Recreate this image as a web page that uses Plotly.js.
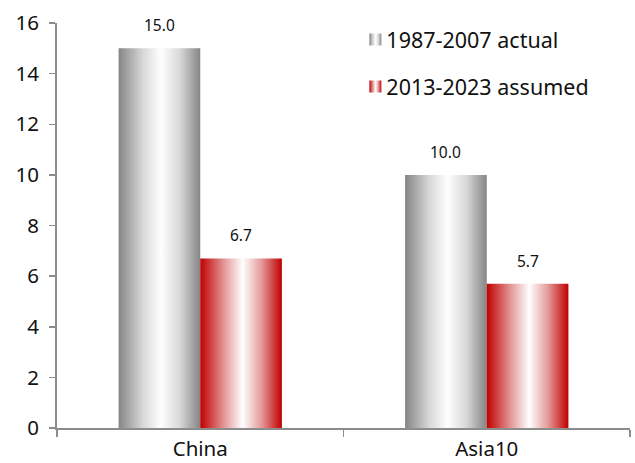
<!DOCTYPE html>
<html>
<head>
<meta charset="utf-8">
<script src="https://cdn.plot.ly/plotly-3.0.1.min.js"></script>
<style>html,body{margin:0;padding:0;background:#fff}#chart{width:635px;height:463px}</style>
</head>
<body>
<div id="chart"></div>
<script>
const categories = ["China", "Asia10"];
const seriesNames = ["1987-2007 actual", "2013-2023 assumed"];
const actual = [15.0, 10.0];
const assumed = [6.7, 5.7];
const yTicks = [0, 2, 4, 6, 8, 10, 12, 14, 16];

const FONT = "Noto Sans, Open Sans, DejaVu Sans, sans-serif";

const traces = [
  {type: "bar", name: seriesNames[0], x: categories, y: actual, legendgroup: "a",
   marker: {color: "#b0b0b0", line: {width: 0}}, hoverinfo: "none"},
  {type: "bar", name: seriesNames[1], x: categories, y: assumed, legendgroup: "b",
   marker: {color: "#d04040", line: {width: 0}}, hoverinfo: "none"}
];

const annotations = [];
[actual, assumed].forEach((vals, si) => {
  vals.forEach((v, i) => {
    annotations.push({
      x: categories[i], y: v, xref: "x", yref: "y",
      text: v.toFixed(1), showarrow: false,
      xshift: si === 0 ? -41 : 41, yshift: 23,
      font: {family: FONT, size: 15.5, color: "#111"}
    });
  });
});

const layout = {
  width: 635, height: 463,
  margin: {l: 57, r: 5, t: 23, b: 35},
  paper_bgcolor: "#fff", plot_bgcolor: "#fff",
  font: {family: FONT, color: "#111"},
  barmode: "group", bargap: 0.43, bargroupgap: 0,
  showlegend: true,
  legend: {x: 0.505, y: 1.01, xanchor: "left", yanchor: "top",
           font: {family: FONT, size: 21.5, color: "#111"},
           traceorder: "grouped", tracegroupgap: 16, itemwidth: 30,
           bgcolor: "rgba(0,0,0,0)"},
  xaxis: {type: "category", showline: true, linecolor: "#8c8c8c", linewidth: 2,
          ticks: "outside", tickson: "boundaries", ticklen: 7, tickcolor: "#8c8c8c", tickwidth: 1.5,
          ticklabelstandoff: 1,
          tickfont: {family: FONT, size: 20.5, color: "#111"}, showgrid: false, zeroline: false,
          fixedrange: true},
  yaxis: {range: [0, 16], tickvals: yTicks, showline: true, linecolor: "#8c8c8c", linewidth: 2,
          ticks: "outside", ticklen: 6, tickcolor: "#8c8c8c", tickwidth: 1.5,
          ticklabelstandoff: 6,
          tickfont: {family: FONT, size: 20.5, color: "#111"}, showgrid: false, zeroline: false,
          fixedrange: true},
  annotations: annotations
};

function applyGradients(gd) {
  const svg = gd.querySelector(".main-svg");
  const ns = "http://www.w3.org/2000/svg";
  let defs = svg.querySelector("defs");
  if (!defs) { defs = document.createElementNS(ns, "defs"); svg.insertBefore(defs, svg.firstChild); }
  const grads = [
    {id: "gradGray", edge: "#858585", mid: "#d8d8d8"},
    {id: "gradRed", edge: "#c00000", mid: "#e49a9a"}
  ];
  grads.forEach(g => {
    if (document.getElementById(g.id)) return;
    const lg = document.createElementNS(ns, "linearGradient");
    lg.setAttribute("id", g.id);
    lg.setAttribute("x1", "0"); lg.setAttribute("y1", "0");
    lg.setAttribute("x2", "1"); lg.setAttribute("y2", "0");
    [[0, g.edge], [0.3, g.mid], [0.52, "#ffffff"], [0.75, g.mid], [1, g.edge]].forEach(([o, c]) => {
      const s = document.createElementNS(ns, "stop");
      s.setAttribute("offset", o); s.setAttribute("stop-color", c);
      lg.appendChild(s);
    });
    defs.appendChild(lg);
  });
  const barTraces = gd.querySelectorAll(".barlayer .trace.bars");
  barTraces.forEach((t, i) => {
    t.querySelectorAll(".point path").forEach(p => { p.style.fill = "url(#" + grads[i].id + ")"; });
  });
  const legendTraces = gd.querySelectorAll(".legend .traces");
  legendTraces.forEach((t, i) => {
    const lp = t.querySelector(".legendpoints");
    if (lp) lp.setAttribute("transform", "translate(9,0)");
    t.querySelectorAll(".legendpoints path").forEach(p => { p.style.fill = "url(#" + grads[i].id + ")"; });
  });
}

Plotly.newPlot("chart", traces, layout, {displayModeBar: false, staticPlot: true}).then(gd => {
  applyGradients(gd);
});
</script>
</body>
</html>
